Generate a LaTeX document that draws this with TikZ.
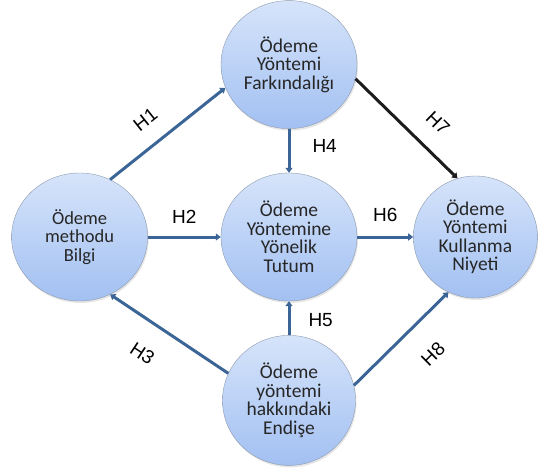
\documentclass[tikz,border=0pt]{standalone}
\usepackage{fontspec}
\setmainfont{Carlito}
\newfontfamily\lblfont{Liberation Sans}
\usepackage{xcolor}
\usepackage{tikz}
\usetikzlibrary{positioning,shapes.geometric,arrows.meta,shadows}
\definecolor{CircTop}{HTML}{D6E4FA}
\definecolor{CircBot}{HTML}{A2C0F2}
\definecolor{CircEdge}{HTML}{8E9AAE}
\definecolor{PathBlue}{HTML}{3B6596}
\definecolor{PathBlack}{HTML}{1C1C1C}

\begin{document}
\begin{tikzpicture}[x=1pt, y=-1pt,
                      circ/.style={ellipse, draw=CircEdge, thin, top color=CircTop, bottom color=CircBot,
                                   minimum width=136pt, minimum height=128pt, inner sep=0pt, align=center,
                                   font=\fontsize{19.5}{18.5}\selectfont, text=black!85,
                                   drop shadow={shadow xshift=1pt, shadow yshift=-2pt, opacity=0.2}},
                      lbl/.style={font=\lblfont\fontsize{19}{19}\selectfont, inner sep=0pt, text=black},
                      arr/.style={-{Triangle[length=5pt,width=7pt]}, line width=3pt, draw=PathBlue}]
  \useasboundingbox (0,0) rectangle (538,468);
  \node[circ] (tutum) at (289,237) {Ödeme\\Yöntemine\\Yönelik\\Tutum};
  \node[circ, above=44pt of tutum] (fark) {Ödeme\\Yöntemi\\Farkındalığı};
  \node[circ, below=34pt of tutum, minimum height=130pt, minimum width=133pt] (endise) {Ödeme\\yöntemi\\hakkındaki\\Endişe};
  \node[circ, left=73pt of tutum, font=\fontsize{18.5}{18.3}\selectfont] (bilgi) {Ödeme\\methodu\\Bilgi};
  \node[circ, right=56pt of tutum, minimum width=124pt, minimum height=122pt] (niyeti) {Ödeme\\Yöntemi\\Kullanma\\Niyeti};
  \draw[arr] (bilgi.62) -- node[lbl, sloped, pos=0.44, above=17pt] {H1} (fark.200);
  \draw[arr] (bilgi) -- node[lbl, above=12pt] {H2} (tutum);
  \draw[arr] (endise.156) -- node[lbl, sloped, pos=0.58, below=23pt] {H3} (bilgi.298);
  \draw[arr] (fark) -- node[lbl, pos=0.4, right=22pt] {H4} (tutum);
  \draw[arr] (endise) -- node[lbl, pos=0.45, right=18pt] {H5} (tutum);
  \draw[arr] (tutum) -- node[lbl, above=14pt] {H6} (niyeti);
  \draw[arr, draw=PathBlack] (fark.348) -- node[lbl, sloped, pos=0.63, above=18pt] {H7} (niyeti.107);
  \draw[arr] (endise.13) -- node[lbl, sloped, pos=0.59, below=25pt] {H8} (niyeti.244);
\end{tikzpicture}
\end{document}
